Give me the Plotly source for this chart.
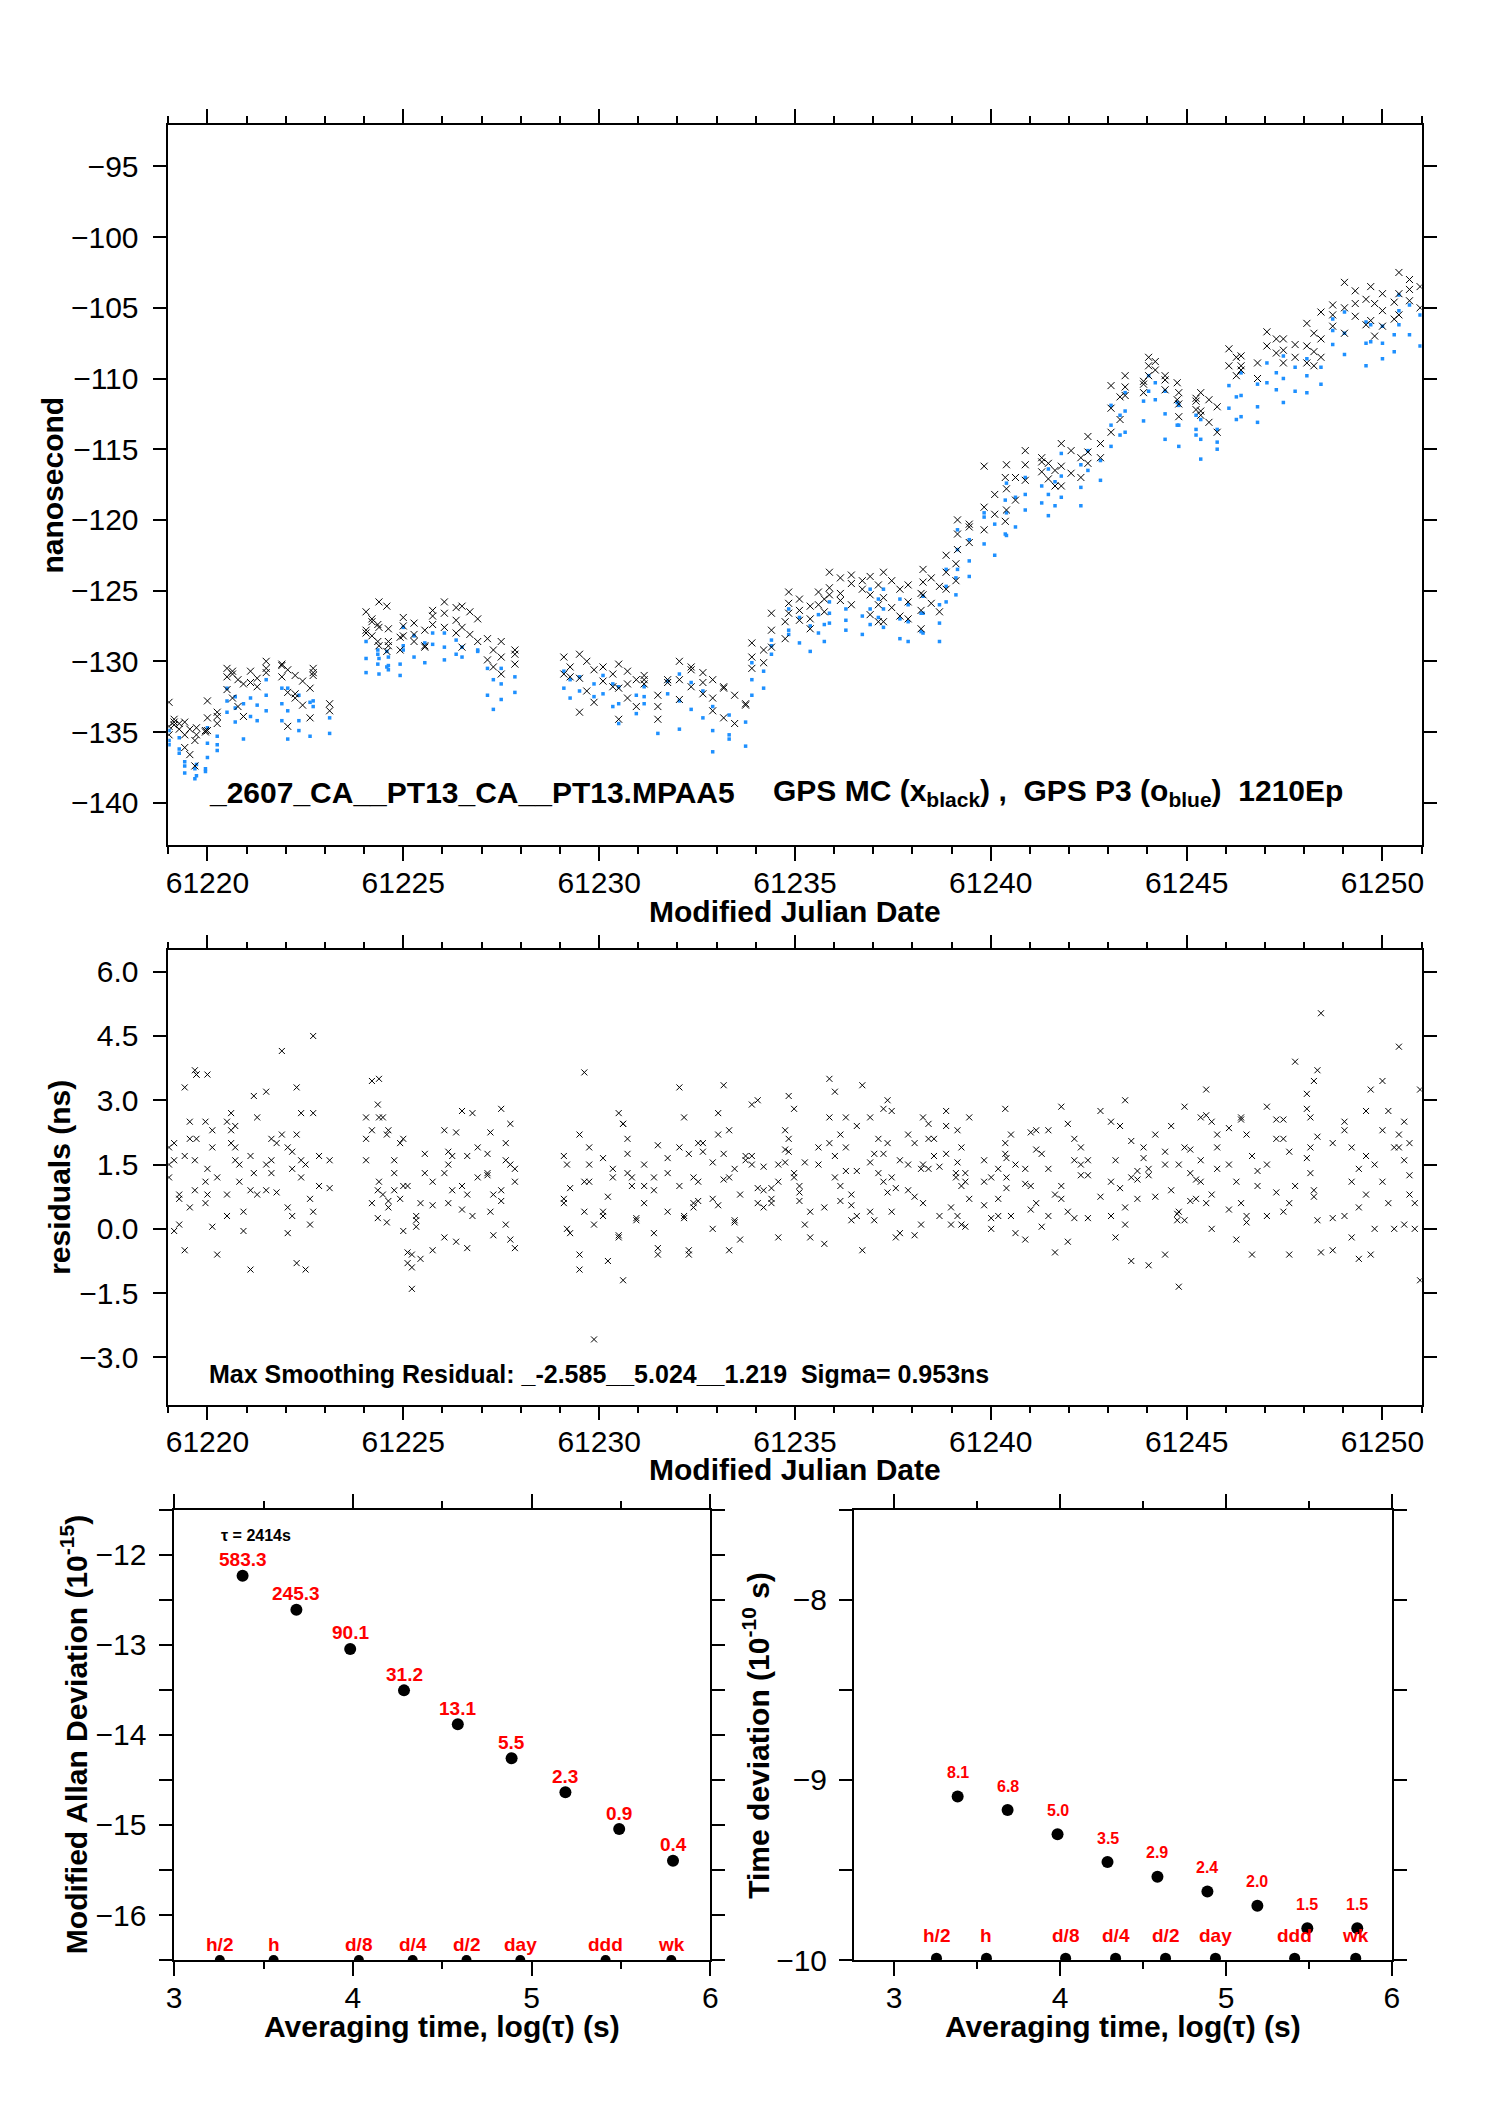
import numpy as np
import plotly.graph_objects as go

W, H = 1488, 2105
FONT = "Liberation Sans, Arial, Helvetica, sans-serif"
RED = "#ff0000"
BLUE_C = "#1e90ff"

# ---------------- top / middle panel data (per tracking cluster) ----------------
T0 = [61219.02, 61219.42, 61219.72, 61220.00, 61220.50, 61221.10, 61221.50, 61222.05, 61222.70, 61223.12,
      61224.05, 61224.38, 61224.62, 61225.00, 61225.75, 61226.05, 61226.50, 61227.15, 61227.50,
      61229.10, 61229.50, 61230.10, 61230.50, 61231.15, 61231.50, 61231.75, 61232.05, 61232.90, 61233.90,
      61234.40, 61234.84, 61235.60, 61235.88, 61236.92, 61237.26, 61237.89, 61238.27, 61238.86, 61239.15,
      61239.83, 61240.40, 61240.88, 61241.47, 61241.80, 61242.48, 61243.07, 61243.43, 61244.03, 61244.45,
      61244.80, 61245.36, 61246.08, 61246.39, 61247.05, 61247.47, 61248.07, 61248.73, 61249.03, 61249.70,
      61250.00, 61250.42]
T1 = [61219.28, 61219.68, 61219.95, 61220.25, 61220.92, 61221.27, 61221.90, 61222.62, 61222.85, 61223.20,
      61224.35, 61224.58, 61224.92, 61225.55, 61225.87, 61226.35, 61226.90, 61227.30, 61227.85,
      61229.26, 61229.87, 61230.35, 61230.95, 61231.40, 61231.60, 61231.85, 61232.65, 61233.74, 61234.20,
      61234.75, 61235.39, 61235.75, 61236.72, 61237.13, 61237.68, 61238.22, 61238.69, 61239.11, 61239.45,
      61240.37, 61240.63, 61241.30, 61241.64, 61242.30, 61242.80, 61243.30, 61243.90, 61244.20, 61244.76,
      61245.24, 61245.78, 61246.27, 61246.81, 61247.29, 61247.77, 61248.43, 61248.80, 61249.58, 61249.80,
      61250.30, 61250.96]

GPS_MC_NS = [
    [-132.9, -134.1, -134.4, -134.6, -134.3, -134.8, -135.2, -134.5],
    [-134.3, -134.8, -135.6, -136.1, -136.6, -137.4, -135.2],
    [-134.7, -135.0, -135.2, -134.9],
    [-132.8, -133.6, -134.0, -134.4, -134.9, -133.9],
    [-130.5, -130.9, -131.3, -131.6, -132.0, -132.6, -133.2, -133.9, -131.1, -130.7],
    [-130.7, -131.2, -131.5, -131.8],
    [-130.0, -130.3, -130.8, -131.1, -130.5, -130.2],
    [-130.6, -131.0, -131.4, -131.9, -132.2, -132.6, -133.1, -134.0, -134.6, -132.3],
    [-130.5, -130.8, -131.0],
    [-133.0, -133.5],
    [-126.5, -127.0, -127.4, -127.8, -128.2, -128.6, -128.0, -127.2],
    [-125.8, -126.1, -128.9, -129.3, -127.6],
    [-127.7, -128.3, -128.9, -129.2, -128.6],
    [-126.9, -127.3, -127.8, -128.2, -128.6, -129.0, -127.5, -128.1, -128.9],
    [-126.4, -126.8, -127.4],
    [-125.8, -126.2, -126.6, -127.1, -127.6, -128.0],
    [-126.1, -126.5, -127.0, -127.6, -128.1, -128.6, -129.0],
    [-128.4, -129.2, -129.9, -130.4],
    [-128.6, -129.2, -129.7, -130.2, -130.9, -129.5],
    [-129.7, -130.4, -130.9, -131.1],
    [-129.5, -130.0, -130.6, -131.2, -132.1, -132.9, -133.6],
    [-130.4, -130.9, -131.4, -131.8],
    [-130.2, -130.7, -131.3, -131.9, -132.6, -133.2, -134.1, -131.6],
    [-131.0, -131.3, -131.6],
    [-132.4, -133.2, -134.1],
    [-131.3, -131.5],
    [-130.0, -130.4, -130.8, -131.3, -131.8, -132.3, -132.7, -130.6, -131.5],
    [-131.3, -131.8, -132.4, -133.0, -133.5, -134.0, -134.4, -133.1, -132.6, -131.9],
    [-128.7, -129.2, -129.7, -130.1, -130.5],
    [-126.6, -127.2, -127.8, -128.4, -129.0],
    [-125.1, -125.6, -126.1, -126.6, -127.1, -127.7, -125.9, -126.4, -127.0],
    [-125.1, -125.6, -126.0, -126.5],
    [-123.7, -124.1, -124.5, -124.9, -125.3, -125.7, -126.0, -124.3, -124.8, -125.2, -123.9],
    [-124.0, -124.6, -125.3, -126.0, -126.7, -127.2],
    [-123.7, -124.3, -124.9, -125.5, -126.2, -126.8, -127.2],
    [-124.6, -125.2, -125.8, -126.4, -127.0, -127.7],
    [-123.5, -124.1, -124.7, -125.3, -125.9, -126.5, -124.4],
    [-122.5, -123.1, -123.7, -124.3, -124.9],
    [-120.0, -120.5, -121.0, -121.6, -122.1, -120.3],
    [-119.1, -119.6, -120.1, -120.7, -118.2, -117.0, -116.2],
    [-116.1, -117.0, -117.8, -118.6, -119.3],
    [-115.1, -115.6, -116.1, -116.6, -117.2, -115.9],
    [-116.0, -116.5, -117.1, -117.6],
    [-114.6, -115.1, -115.6, -116.2, -116.7, -117.0, -117.6],
    [-114.1, -114.6, -115.2, -115.6, -116.0],
    [-110.5, -111.3, -112.1, -112.9, -113.8],
    [-109.8, -110.2, -110.6, -111.0, -111.2, -110.4],
    [-108.5, -108.8, -109.1, -109.4, -109.8],
    [-109.8, -110.3, -110.8, -111.5, -110.1],
    [-111.0, -111.4, -111.8, -112.2, -112.7, -111.6],
    [-111.0, -111.5, -112.0, -112.6, -113.1, -113.8, -112.3],
    [-107.9, -108.5, -109.1, -109.8],
    [-108.4, -108.9, -109.4, -110.0, -109.1],
    [-106.7, -107.2, -107.7, -108.2],
    [-107.2, -107.6, -108.0, -108.5, -108.9],
    [-107.7, -108.1, -108.5, -108.9, -109.1, -105.3, -106.1, -106.8, -107.2],
    [-104.8, -105.5, -106.3],
    [-103.2, -103.8, -104.4, -105.0, -105.6, -106.2, -106.8, -104.7],
    [-103.5, -104.7, -105.9, -107.0],
    [-104.0, -104.6, -105.2, -105.8, -106.3],
    [-102.5, -103.0, -103.5, -104.0, -104.5, -105.0, -105.5, -103.7],
]

GPS_P3_NS = [
    [-134.9, -135.4, -135.9, -136.2, -135.6, -136.5],
    [-137.1, -137.6, -137.9, -138.3, -137.4],
    [-137.3, -137.8, -138.1, -137.6],
    [-134.7, -135.3, -135.8, -136.3, -136.8, -135.9],
    [-131.9, -132.5, -133.0, -133.6, -134.3, -135.5, -132.8, -133.3],
    [-132.6, -133.1, -133.9, -134.2],
    [-131.3, -131.9, -132.4, -133.0, -133.5, -134.2],
    [-131.9, -132.4, -132.9, -133.5, -134.2, -135.3, -135.5, -134.9],
    [-132.8, -133.2],
    [-134.0, -135.1],
    [-128.6, -129.2, -129.8, -130.2, -130.8, -129.5],
    [-129.8, -130.4, -130.9, -129.3],
    [-129.7, -130.2, -130.6, -131.0, -130.3],
    [-127.6, -128.2, -128.7, -129.2, -129.7, -130.1, -128.9],
    [-128.0, -128.8],
    [-128.0, -128.5, -129.0, -129.5, -129.9],
    [-129.0, -129.3, -129.7, -129.2],
    [-130.5, -131.3, -132.4, -133.4],
    [-130.5, -131.1, -131.6, -132.2, -132.7],
    [-130.7, -131.3, -131.9, -132.6],
    [-131.1, -131.6, -132.1, -132.5],
    [-131.0, -131.6, -132.3, -133.2],
    [-131.8, -132.4, -133.0, -133.7, -134.4],
    [-131.8, -132.5, -133.0],
    [-135.1],
    [-131.4, -132.3],
    [-130.9, -131.5, -132.1, -132.8, -133.4, -134.0, -134.8],
    [-133.2, -133.8, -134.3, -134.9, -135.5, -136.0, -136.4, -135.2],
    [-130.1, -130.7, -131.3, -131.9, -132.4],
    [-128.5, -128.9, -129.5],
    [-126.3, -126.9, -127.5, -128.1, -128.7, -129.3, -127.8],
    [-126.7, -127.4, -128.0, -128.6],
    [-125.8, -126.3, -126.8, -127.3, -127.8, -128.1, -126.6, -127.1],
    [-124.9, -125.6, -126.3, -126.9, -127.4],
    [-124.9, -125.6, -126.3, -127.0, -127.6, -128.4],
    [-126.0, -126.6, -127.2, -127.9, -128.6],
    [-125.4, -126.0, -126.6, -127.3, -128.0, -128.6],
    [-123.5, -124.1, -124.7, -125.3, -125.8],
    [-120.7, -121.4, -122.1, -122.9, -123.5, -124.0],
    [-119.5, -120.3, -121.0, -121.7, -122.5, -118.6, -119.8],
    [-117.4, -118.4, -119.5, -120.5, -121.1],
    [-117.0, -117.6, -118.2, -118.8, -119.3],
    [-116.4, -117.3, -118.2, -119.0, -119.7],
    [-115.3, -116.1, -116.9, -117.7, -118.4, -119.0],
    [-115.1, -115.8, -116.5, -117.2],
    [-111.9, -112.6, -113.3, -114.0, -114.8],
    [-111.0, -111.6, -112.3, -113.0, -113.8],
    [-109.8, -110.3, -110.9, -111.5],
    [-110.9, -111.7, -112.5, -113.3, -114.3],
    [-111.9, -112.6, -113.3, -114.0, -114.8, -113.6],
    [-112.9, -113.6, -114.3, -115.0, -115.7, -114.5],
    [-110.5, -111.3, -112.1, -112.9],
    [-109.6, -110.4, -111.2, -112.0, -112.7, -113.1],
    [-108.9, -109.6, -110.3, -110.8],
    [-108.4, -109.2, -110.0, -110.9, -111.7],
    [-108.6, -109.2, -109.8, -110.4, -111.0],
    [-105.8, -106.6, -107.6],
    [-105.3, -106.0, -106.8, -107.5, -108.3, -109.1],
    [-106.2, -107.4],
    [-106.3, -106.9, -107.5, -108.1, -108.6],
    [-104.1, -104.8, -105.5, -106.2, -106.9, -107.7, -105.2],
]

RESID_NS = [
    [1.9, 1.6, 0.8, 1.2, 2.0, 0.1, 1.5, -0.05, 0.7],
    [3.3, 2.5, 1.6, 1.7, 0.5, 3.7, -0.5, 2.1, 0.9],
    [3.6, 2.5, 2.1, 1.1, 3.6, 0.6],
    [3.6, 1.9, 1.2, 0.8, 0.05, -0.6, 1.4, 2.3],
    [2.5, 2.7, 1.6, 1.1, -0.05, 0.3, 2.0, 2.4, 1.5, 0.4, 0.8, 2.3, 1.9],
    [1.7, 1.3, 0.8, -0.95, 3.1, 2.6, 0.9],
    [3.2, 2.1, 0.85, 4.15, 1.5, 1.3, 2.0, 2.2, 0.9, 1.6],
    [1.9, 0.3, -0.8, 2.7, 1.5, 0.1, -0.1, 1.4, 2.2, 1.2, -0.95, 0.7, 0.5, 1.8, 3.3, 1.6],
    [2.7, 1.7, 4.5, 1.0, 0.4],
    [1.6, 0.95],
    [2.6, 3.45, 2.9, 2.1, 0.6, 0.9, 1.6, 2.3, 0.25],
    [3.5, 2.6, 2.2, 1.1, 0.8, 0.15, 2.6],
    [2.3, 1.3, 0.7, 0.5, 1.6, 2.0, 0.65, 0.9],
    [-0.05, -0.8, -0.9, 0.2, 0.6, 1.3, 1.0, -0.55, -0.6, 0.3, -0.7, 1.75, 2.1, 1.0, -1.4, 0.05],
    [1.1, 0.55, -0.5],
    [1.3, 0.6, 1.7, 2.25, 2.3, 1.5, 0.9, -0.3, -0.2, 1.8],
    [2.75, 1.7, 0.3, 1.9, 1.0, -0.45, 2.7, 1.2, 0.45, 0.8],
    [1.75, 2.25, 0.8, 1.25, 0.4, -0.15, 1.3],
    [2.8, 2.0, 1.5, 1.4, 0.65, 1.6, 2.45, 1.1, 0.9, 0.1, -0.25, -0.45],
    [1.7, 1.5, 0.95, 0.6, 0.0, -0.1, 0.7],
    [2.2, 1.1, 1.5, 0.1, -0.95, 3.65, 1.9, -2.58, -0.6, 0.4, 1.1],
    [0.3, 0.75, 1.2, 0.4, -0.75, 1.4, 1.65],
    [2.7, 2.45, 1.3, 1.0, 0.25, -0.15, -1.2, 1.75, 1.2, 0.2, -0.2, 2.45, 2.1],
    [1.0, 0.9, 0.6, -0.1, 1.5, 1.2],
    [-0.6, -0.45, 1.95],
    [1.3, 0.4, 1.65],
    [1.9, 0.3, 1.75, 1.2, 0.65, 2.0, 1.0, 0.25, -0.5, 0.6, 1.1, 1.8, 3.3, 2.6, -0.6, 0.5, 2.0],
    [0.0, 0.55, 1.75, 2.3, 0.15, -0.25, 1.6, 1.55, 2.7, 1.15, 1.2, 0.2, 0.8, 1.7, 0.7, 2.2, 3.35, -0.5, 1.4],
    [1.5, 0.95, 0.5, 2.9, 3.0, 1.45, 1.7, 0.6, 0.9],
    [0.6, 1.5, 2.3, 0.95, 1.1, 1.55, 0.7, -0.2, 1.85],
    [2.1, 1.3, 0.65, 0.1, -0.2, 3.1, 2.8, 1.0, 1.55, 0.4, 1.8, 1.2, 0.85],
    [1.5, 0.5, 1.9, -0.35],
    [3.5, 3.2, 2.2, 1.35, 0.8, 0.3, -0.5, 2.0, 1.7, 1.0, 2.6, 0.55, 1.35, 3.35, 2.6, 1.2, 0.65, 1.9, 0.2, 2.4],
    [2.6, 1.75, 2.1, 0.4, 0.2, 1.3, 1.55],
    [1.1, 0.85, 0.4, -0.2, 1.6, 2.8, 2.0, 1.2, 0.95, -0.1, 1.75, 3.0, 2.75],
    [1.5, 0.75, 0.1, 2.2, 2.0, 1.4, 0.9, -0.15],
    [2.6, 2.1, 1.7, 1.45, 0.6, 1.4, 2.1, 0.3, 1.5, 2.45],
    [1.75, 0.5, 1.2, 2.4, 0.1, 1.3, 2.75],
    [2.3, 1.9, 1.3, 0.7, 0.3, 1.0, 0.05, 2.6, 1.55, 0.1, 1.1],
    [1.6, 0.25, 0.3, 2.0, 1.1, 1.2, 0.7, 2.8, 0.55, 0.0, 1.4, 1.75],
    [1.2, 2.2, 1.5, 0.95, 0.3, -0.1, 1.65],
    [1.4, 1.0, 0.6, 0.05, -0.25, 2.25, 1.85, 1.75, 1.05, 0.45, 2.3],
    [1.4, 0.8, 0.3, -0.55, 2.3],
    [2.85, 2.45, 1.6, 1.25, 0.7, -0.3, 2.1, 1.9, 1.0, 0.4, 0.25, 1.5],
    [1.25, 0.75, 0.25, 2.75, 1.6],
    [2.5, 1.6, 0.95, 0.3, -0.2, 2.4, 1.1],
    [3.0, 1.2, 0.7, 1.65, 0.1, -0.75, 1.35, 1.9, 0.5, 2.05, 1.15],
    [1.25, 0.75, -0.85, 2.2, 1.4],
    [1.5, 0.9, 0.2, 1.8, 2.4, 0.35, -0.6],
    [-1.35, 0.2, 0.65, 1.15, 1.5, 2.85, 1.85, 0.7, 0.4, 1.9, 1.3],
    [2.6, 2.65, 2.5, 1.9, 1.1, 0.6, 0.0, 2.2, 1.6, 3.25, 0.8, 1.4],
    [1.5, 1.1, 0.45, -0.25, 2.35],
    [2.55, 2.2, 1.7, 1.0, 0.6, 0.15, -0.6, 1.35, 2.6, 0.3],
    [2.85, 2.1, 1.5, 0.85, 0.3, 2.55],
    [2.55, 1.8, 1.0, 0.4, -0.6, 3.9, 2.1, 0.6],
    [2.8, 1.3, 0.9, 0.2, -0.55, 1.65, 2.6, 3.45, 3.7, 5.03, 3.15, 1.9, 0.75, 2.15],
    [-0.5, 0.25, 2.0],
    [2.3, 1.9, 1.4, 0.8, 0.3, -0.2, -0.7, 1.7, 2.5, 1.1, 0.5, 2.75],
    [3.25, 1.5, -0.6, 0.0],
    [3.45, 2.75, 1.9, 1.1, 0.6, 0.0, 2.3],
    [2.2, 1.6, 0.8, 0.0, -1.2, 4.25, 2.5, 1.25, 0.6, 3.25, 1.9, 0.1, 2.0],
]

TOP_LABEL_A = "_2607_CA__PT13_CA__PT13.MPAA5"
TOP_LABEL_B = "GPS MC (x<sub>black</sub>) ,\u00a0\u00a0GPS P3 (o<sub>blue</sub>)\u00a0\u00a01210Ep"
RESID_LABEL = "Max Smoothing Residual: _-2.585__5.024__1.219\u00a0\u00a0Sigma= 0.953ns"

# ---------------- stability data ----------------
TAU_S = [2414, 4828, 9656, 19312, 38624, 77248, 154496, 308992, 617984]
MDEV_E15 = [583.3, 245.3, 90.1, 31.2, 13.1, 5.5, 2.3, 0.9, 0.4]
TDEV_E10 = [8.1, 6.8, 5.0, 3.5, 2.9, 2.4, 2.0, 1.5, 1.5]
TAG_S = [1800, 3600, 10800, 21600, 43200, 86400, 259200, 604800]
TAG_TXT = ["h/2", "h", "d/8", "d/4", "d/2", "day", "ddd", "wk"]

SATS_PER_EPOCH = 3


def spread(lists):
    """Place each cluster's samples on tracking epochs inside [T0, T1];
    several satellites share one epoch."""
    xs, ys = [], []
    for t0, t1, vals in zip(T0, T1, lists):
        n = len(vals)
        ne = max(1, -(-n // SATS_PER_EPOCH))
        epochs = np.linspace(t0, t1, ne) if ne > 1 else np.array([t0])
        xs.extend([float(epochs[i % ne]) for i in range(n)])
        ys.extend(vals)
    return xs, ys


bx, by = spread(GPS_MC_NS)
px_, py_ = spread(GPS_P3_NS)
rx, ry = spread(RESID_NS)

log_tau = np.log10(TAU_S)
mdev_y = np.log10(MDEV_E15) - 15
tdev_y = np.log10(TDEV_E10) - 10
tag_x = np.log10(TAG_S)

fig = go.Figure()
fig.add_trace(go.Scatter(x=px_, y=py_, mode="markers", xaxis="x", yaxis="y",
                         marker=dict(symbol="square", size=3.5, color=BLUE_C, line=dict(width=0))))
fig.add_trace(go.Scatter(x=bx, y=by, mode="markers", xaxis="x", yaxis="y",
                         marker=dict(symbol="x-thin", size=7, line=dict(width=1, color="black"))))
fig.add_trace(go.Scatter(x=rx, y=ry, mode="markers", xaxis="x2", yaxis="y2",
                         marker=dict(symbol="x-thin", size=6, line=dict(width=1, color="black"))))
fig.add_trace(go.Scatter(x=log_tau, y=mdev_y, mode="markers", xaxis="x3", yaxis="y3",
                         marker=dict(symbol="circle", size=12, color="black")))
fig.add_trace(go.Scatter(x=tag_x, y=[-16.5] * len(tag_x), mode="markers", xaxis="x3", yaxis="y3",
                         marker=dict(symbol="circle", size=10, color="black")))
fig.add_trace(go.Scatter(x=log_tau, y=tdev_y, mode="markers", xaxis="x4", yaxis="y4",
                         marker=dict(symbol="circle", size=12, color="black")))
fig.add_trace(go.Scatter(x=tag_x, y=[-9.99] * len(tag_x), mode="markers", xaxis="x4", yaxis="y4",
                         marker=dict(symbol="circle", size=11, color="black")))


def fx(p):
    return p / W


def fy(p):
    return 1 - p / H


def axis(domain, rng, dtick, tick0, anchor, minor_dtick=None, ticklen=14, minor_len=7, fmt=None,
         minor_tick0=None, standoff=None):
    d = dict(domain=domain, range=rng, dtick=dtick, tick0=tick0, anchor=anchor, ticks="outside",
             ticklen=ticklen, tickwidth=1.5, tickcolor="black", showline=True, linewidth=1.5,
             linecolor="black", mirror="allticks", showgrid=False, zeroline=False,
             tickfont=dict(size=30, family=FONT, color="black"))
    if minor_dtick:
        d["minor"] = dict(dtick=minor_dtick, tick0=tick0 if minor_tick0 is None else minor_tick0,
                          ticks="outside", ticklen=minor_len, tickwidth=1.5, tickcolor="black",
                          showgrid=False)
    if fmt:
        d["tickformat"] = fmt
    if standoff is not None:
        d["ticklabelstandoff"] = standoff
    return d


TOP = (126, 852)
MID = (958, 1416)
BOT = (1522, 1976)
XMAIN = (162, 1429)
XBL = (168, 710)
XBR = (855, 1399)

fig.update_layout(
    width=W, height=H, margin=dict(l=0, r=0, t=0, b=0), showlegend=False,
    paper_bgcolor="white", plot_bgcolor="white",
    font=dict(family=FONT, size=30, color="black"),
    xaxis=axis([fx(XMAIN[0]), fx(XMAIN[1])], [61219, 61251], 5, 61220, "y", 1, fmt="d", standoff=-4),
    yaxis=axis([fy(TOP[1]), fy(TOP[0])], [-143.0, -92.07], 5, -95, "x", standoff=8),
    xaxis2=axis([fx(XMAIN[0]), fx(XMAIN[1])], [61219, 61251], 5, 61220, "y2", 1, fmt="d", standoff=-4),
    yaxis2=axis([fy(MID[1]), fy(MID[0])], [-4.1, 6.5], 1.5, 0, "x2", fmt=".1f", standoff=8),
    xaxis3=axis([fx(XBL[0]), fx(XBL[1])], [3, 6], 1, 3, "y3", 0.5, standoff=-4),
    yaxis3=axis([fy(BOT[1]), fy(BOT[0])], [-16.5, -11.5], 1, -12, "x3", 0.5, ticklen=13, minor_len=13,
                standoff=7),
    xaxis4=axis([fx(XBR[0]), fx(XBR[1])], [2.757, 6], 1, 3, "y4", 0.5, minor_tick0=3, standoff=-4),
    yaxis4=axis([fy(BOT[1]), fy(BOT[0])], [-10, -7.5], 1, -10, "x4", 0.5, ticklen=13, minor_len=13,
                standoff=6),
)

ann = []
# panel texts
ann.append(dict(x=61220.0, y=-139.3, xref="x", yref="y", xanchor="left", yanchor="middle",
                text="<b>" + TOP_LABEL_A + "</b>", showarrow=False, font=dict(size=30)))
ann.append(dict(x=61234.38, y=-139.3, xref="x", yref="y", xanchor="left", yanchor="middle",
                text="<b>" + TOP_LABEL_B + "</b>", showarrow=False, font=dict(size=30)))
ann.append(dict(x=61220.0, y=-3.39, xref="x2", yref="y2", xanchor="left", yanchor="middle",
                text="<b>" + RESID_LABEL + "</b>", showarrow=False, font=dict(size=25)))


# axis titles
def xtitle(text, x0, x1, ypx):
    return dict(x=fx((x0 + x1) / 2), y=fy(ypx), xref="paper", yref="paper", xanchor="center",
                yanchor="middle", text="<b>" + text + "</b>", showarrow=False, font=dict(size=30))


def ytitle(text, xpx, y0, y1):
    return dict(x=fx(xpx), y=fy((y0 + y1) / 2), xref="paper", yref="paper", xanchor="center",
                yanchor="middle", text="<b>" + text + "</b>", showarrow=False, textangle=-90,
                font=dict(size=30))


ann.append(xtitle("Modified Julian Date", *XMAIN, 919))
ann.append(xtitle("Modified Julian Date", *XMAIN, 1481))
ann.append(xtitle("Averaging time, log(\u03c4) (s)", *XBL, 2043))
ann.append(xtitle("Averaging time, log(\u03c4) (s)", *XBR, 2043))
ann.append(ytitle("nanosecond", 45, *TOP))
ann.append(ytitle("residuals (ns)", 52, *MID))
ann.append(ytitle("Modified Allan Deviation (10<sup>-15</sup>)", 67, *BOT))
ann.append(ytitle("Time deviation (10<sup>-10</sup> s)", 756, *BOT))

# tau annotation
ann.append(dict(x=3.25, y=-11.785, xref="x3", yref="y3", xanchor="left", yanchor="middle",
                text="<b>\u03c4 = 2414s</b>", showarrow=False, font=dict(size=16)))

for xv, yv, v in zip(log_tau, mdev_y, MDEV_E15):
    ann.append(dict(x=xv, y=yv, xref="x3", yref="y3", yshift=16, showarrow=False,
                    text="<b>%.1f</b>" % v, font=dict(size=19, color=RED)))
for xv, yv, v in zip(log_tau, tdev_y, TDEV_E10):
    ann.append(dict(x=xv, y=yv, xref="x4", yref="y4", yshift=24, showarrow=False,
                    text="<b>%.1f</b>" % v, font=dict(size=16, color=RED)))
for xv, t in zip(tag_x, TAG_TXT):
    ann.append(dict(x=xv, y=-16.5, xref="x3", yref="y3", yshift=16, showarrow=False,
                    text="<b>%s</b>" % t, font=dict(size=19, color=RED)))
    ann.append(dict(x=xv, y=-10, xref="x4", yref="y4", yshift=25, showarrow=False,
                    text="<b>%s</b>" % t, font=dict(size=19, color=RED)))

fig.update_layout(annotations=ann)
fig.write_html("out.html", config={"displayModeBar": False},
               post_script="document.body.style.margin='0px';document.body.style.overflow='hidden';")
